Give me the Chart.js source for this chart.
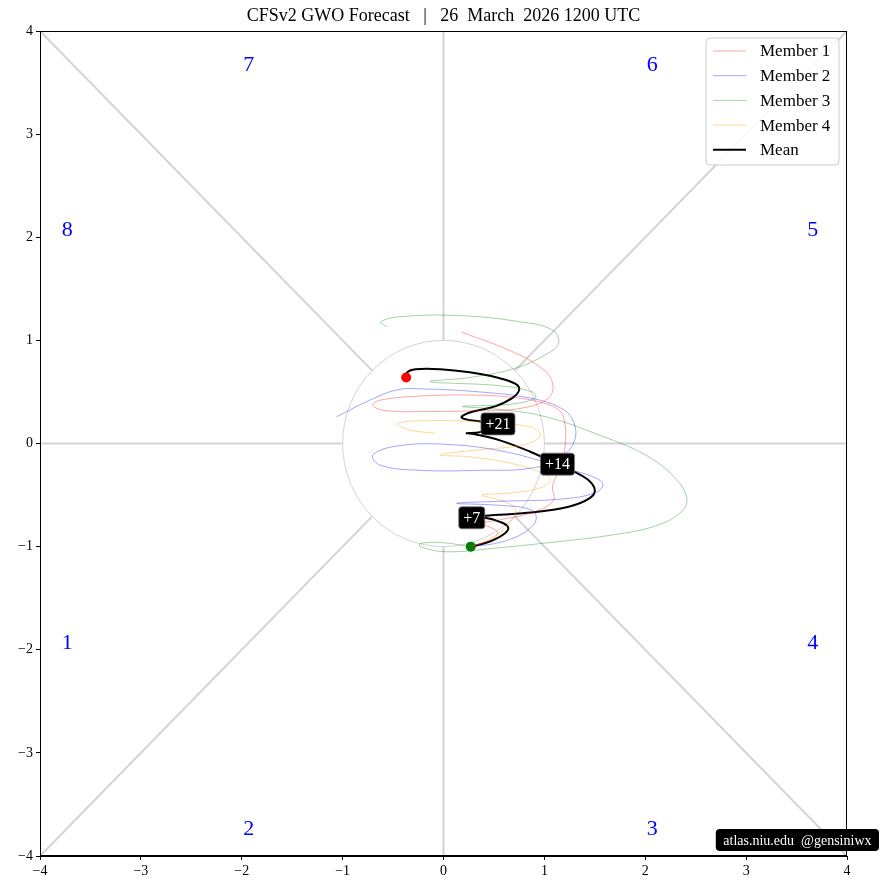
<!DOCTYPE html>
<html lang="en">
<head>
<meta charset="UTF-8">
<title>CFSv2 GWO Forecast</title>
<script src="https://cdn.jsdelivr.net/npm/chart.js"></script>
<style>
  body { margin: 0; background: #ffffff; }
  #wrap { width: 881px; height: 890px; }
</style>
</head>
<body>
<div id="wrap"><canvas id="gwo" width="881" height="890"></canvas></div>
<script>
// Ensemble members, in GWO phase space
const m1X = [0.27,0.46,0.54,0.46,0.36,0.56,0.91,1.09,1.08,1.12,1.18,1.21,1.20,1.15,0.96,0.66,0.26,-0.23,-0.63,-0.70,-0.58,-0.13,0.36,0.76,1.04,1.08,0.96,0.66,0.18];
const m1Y = [-1.00,-0.94,-0.87,-0.81,-0.78,-0.74,-0.66,-0.55,-0.42,-0.31,-0.16,0.03,0.21,0.32,0.40,0.45,0.47,0.46,0.42,0.37,0.32,0.31,0.32,0.34,0.44,0.59,0.74,0.90,1.08];

const m2X = [0.27,0.51,0.71,0.86,0.92,0.86,0.56,0.13,0.56,1.15,1.50,1.58,1.50,1.28,1.01,0.56,0.06,-0.43,-0.70,-0.63,-0.23,0.36,0.86,1.15,1.30,1.28,1.15,0.86,0.36,-0.23,-0.46,-0.73,-1.06];
const m2Y = [-1.00,-0.97,-0.91,-0.82,-0.72,-0.64,-0.60,-0.58,-0.56,-0.54,-0.48,-0.40,-0.33,-0.26,-0.18,-0.07,-0.01,-0.02,-0.11,-0.21,-0.26,-0.26,-0.24,-0.14,0.03,0.23,0.35,0.44,0.50,0.53,0.52,0.42,0.26];

const m3X = [0.27,-0.03,-0.23,-0.23,0.03,0.56,1.15,1.65,2.10,2.36,2.41,2.27,2.00,1.55,1.01,0.56,0.19,0.66,0.91,0.88,0.56,-0.13,0.26,0.71,1.01,1.14,1.08,0.76,0.16,-0.43,-0.62,-0.56];
const m3Y = [-1.00,-0.96,-0.97,-1.00,-1.05,-1.01,-0.95,-0.89,-0.80,-0.66,-0.52,-0.31,-0.11,0.08,0.26,0.33,0.36,0.38,0.44,0.50,0.56,0.60,0.64,0.73,0.86,0.97,1.10,1.18,1.24,1.23,1.18,1.13];

const m4X = [0.27,0.41,0.56,0.68,0.71,0.56,0.38,0.66,0.96,1.06,0.96,0.66,0.26,-0.03,0.36,0.81,0.96,0.86,0.36,-0.23,-0.46,-0.33,-0.08];
const m4Y = [-1.00,-0.95,-0.86,-0.74,-0.63,-0.55,-0.50,-0.48,-0.43,-0.35,-0.28,-0.19,-0.13,-0.11,-0.06,-0.01,0.08,0.16,0.21,0.22,0.19,0.13,0.10];

// Ensemble mean
const meanX = [0.27,0.46,0.61,0.64,0.56,0.41,0.28,0.41,0.86,1.25,1.45,1.50,1.43,1.27,1.13,0.86,0.56,0.31,0.23,0.36,0.54,0.38,0.18,0.26,0.51,0.68,0.75,0.71,0.53,0.26,-0.03,-0.28,-0.36,-0.37];
const meanY = [-1.00,-0.95,-0.87,-0.81,-0.76,-0.72,-0.72,-0.70,-0.67,-0.61,-0.53,-0.45,-0.35,-0.26,-0.20,-0.08,0.03,0.09,0.10,0.11,0.19,0.21,0.25,0.30,0.36,0.44,0.52,0.58,0.64,0.69,0.72,0.72,0.69,0.64];

const dayLabels = ['+7', '+14', '+21'];
const dayIndex = [6, 14, 20];

const phaseNames = ['1', '2', '3', '4', '5', '6', '7', '8'];
const phaseX = [-3.73, -1.93, 2.07, 3.66, 3.66, 2.07, -1.93, -3.73];
const phaseY = [-1.94, -3.74, -3.74, -1.94, 2.07, 3.67, 3.67, 2.07];

const titleText = 'CFSv2 GWO Forecast   |   26  March  2026 1200 UTC';
const creditText = 'atlas.niu.edu  @gensiniwx';

const serif = "'Liberation Serif', 'DejaVu Serif', serif";

function pts(xs, ys) {
    return xs.map((v, i) => ({ x: v, y: ys[i] }));
}

function minus(v) {
    return String(v).replace('-', '\u2212');
}

function roundBox(ctx, x, y, w, h, r) {
    ctx.beginPath();
    ctx.moveTo(x + r, y);
    ctx.arcTo(x + w, y, x + w, y + h, r);
    ctx.arcTo(x + w, y + h, x, y + h, r);
    ctx.arcTo(x, y + h, x, y, r);
    ctx.arcTo(x, y, x + w, y, r);
    ctx.closePath();
}

// phase-space guide lines, circle and phase numbers
const phaseBackground = {
    id: 'phaseBackground',
    beforeDatasetsDraw(chart) {
        const { ctx, chartArea: a, scales: { x, y } } = chart;
        ctx.save();
        ctx.beginPath();
        ctx.rect(a.left, a.top, a.width, a.height);
        ctx.clip();
        ctx.strokeStyle = '#d3d3d3';
        ctx.lineWidth = 2;
        const r = Math.SQRT1_2;
        const segs = [[-4, 0, -1, 0], [1, 0, 4, 0], [0, -4, 0, -1], [0, 1, 0, 4],
                      [-4, 4, -r, r], [r, r, 4, 4], [-4, -4, -r, -r], [r, -r, 4, -4]];
        segs.forEach(s => {
            ctx.beginPath();
            ctx.moveTo(x.getPixelForValue(s[0]), y.getPixelForValue(s[1]));
            ctx.lineTo(x.getPixelForValue(s[2]), y.getPixelForValue(s[3]));
            ctx.stroke();
        });
        ctx.lineWidth = 1;
        ctx.beginPath();
        const cx = x.getPixelForValue(0), cy = y.getPixelForValue(0);
        ctx.ellipse(cx, cy, x.getPixelForValue(1) - cx, cy - y.getPixelForValue(1), 0, 0, Math.PI * 2);
        ctx.stroke();

        ctx.fillStyle = '#0000ff';
        ctx.font = '22px ' + serif;
        ctx.textAlign = 'center';
        ctx.textBaseline = 'middle';
        phaseNames.forEach((p, i) => {
            ctx.fillText(p, x.getPixelForValue(phaseX[i]), y.getPixelForValue(phaseY[i]));
        });
        ctx.restore();
    },
    afterDatasetsDraw(chart) {
        const { ctx } = chart;
        const meanMeta = chart.getDatasetMeta(chart.data.datasets.length - 1);
        ctx.save();
        ctx.font = '16px ' + serif;
        ctx.textAlign = 'center';
        ctx.textBaseline = 'middle';
        dayLabels.forEach((lab, i) => {
            const p = meanMeta.data[dayIndex[i]];
            const w = ctx.measureText(lab).width + 9;
            roundBox(ctx, p.x - w / 2, p.y - 11, w, 22, 3);
            ctx.fillStyle = '#000000';
            ctx.fill();
            ctx.strokeStyle = '#777777';
            ctx.lineWidth = 0.8;
            ctx.stroke();
            ctx.fillStyle = '#ffffff';
            ctx.fillText(lab, p.x, p.y + 1);
        });
        ctx.restore();
    },
    afterDraw(chart) {
        const { ctx, chartArea: a } = chart;
        ctx.save();
        // frame
        ctx.strokeStyle = '#000000';
        ctx.lineWidth = 1;
        ctx.strokeRect(a.left + 0.5, a.top + 0.5, a.width - 1, a.height - 1);

        // title
        ctx.fillStyle = '#000000';
        ctx.font = '18px ' + serif;
        ctx.textAlign = 'center';
        ctx.textBaseline = 'middle';
        ctx.fillText(titleText, (a.left + a.right) / 2, 16);

        // legend
        const lx = a.right - 141, ly = a.top + 7, lw = 133, lh = 127;
        roundBox(ctx, lx, ly, lw, lh, 4);
        ctx.fillStyle = 'rgba(255,255,255,0.85)';
        ctx.fill();
        ctx.strokeStyle = '#cccccc';
        ctx.lineWidth = 1;
        ctx.stroke();
        ctx.textAlign = 'left';
        ctx.font = '17px ' + serif;
        chart.data.datasets.forEach((ds, i) => {
            const yy = ly + 13 + i * 24.7;
            ctx.strokeStyle = ds.borderColor;
            ctx.lineWidth = ds.borderWidth;
            ctx.beginPath();
            ctx.moveTo(lx + 7, yy);
            ctx.lineTo(lx + 40, yy);
            ctx.stroke();
            ctx.fillStyle = '#000000';
            ctx.fillText(ds.label, lx + 54, yy + 1);
        });

        // credit box
        ctx.font = '14px ' + serif;
        const cw = ctx.measureText(creditText).width + 15;
        const cxr = chart.width - 2;
        roundBox(ctx, cxr - cw, a.bottom - 27, cw, 22, 4);
        ctx.fillStyle = '#000000';
        ctx.fill();
        ctx.fillStyle = '#ffffff';
        ctx.textAlign = 'center';
        ctx.fillText(creditText, cxr - cw / 2, a.bottom - 15);
        ctx.restore();
    }
};

const ctx = document.getElementById('gwo').getContext('2d');
const memberStyle = (label, color, xs, ys) => ({
    label: label,
    data: pts(xs, ys),
    borderColor: color,
    borderWidth: 0.8,
    pointRadius: 0,
    showLine: true,
    tension: 0.4
});

const chart = new Chart(ctx, {
    type: 'scatter',
    data: {
        datasets: [
            memberStyle('Member 1', 'rgba(255,0,0,0.45)', m1X, m1Y),
            memberStyle('Member 2', 'rgba(0,0,255,0.45)', m2X, m2Y),
            memberStyle('Member 3', 'rgba(0,128,0,0.45)', m3X, m3Y),
            memberStyle('Member 4', 'rgba(255,165,0,0.55)', m4X, m4Y),
            {
                label: 'Mean',
                data: pts(meanX, meanY),
                borderColor: '#000000',
                borderWidth: 2,
                showLine: true,
                tension: 0.4,
                pointRadius: c => (c.dataIndex === 0 || c.dataIndex === meanX.length - 1) ? 5 : 0,
                pointBackgroundColor: c => c.dataIndex === 0 ? '#008000' : '#ff0000',
                pointBorderWidth: 0
            }
        ]
    },
    options: {
        responsive: false,
        animation: false,
        layout: { padding: { top: 31, right: 34, left: 0, bottom: 0 } },
        plugins: {
            legend: { display: false },
            tooltip: { enabled: false }
        },
        scales: {
            x: {
                type: 'linear',
                min: -4, max: 4,
                ticks: { stepSize: 1, color: '#000', padding: 3, font: { family: serif, size: 14 }, callback: v => minus(v) },
                grid: { drawOnChartArea: false, drawTicks: true, tickLength: 4, color: '#000' },
                border: { color: '#000' },
                afterFit: s => { s.height = 34; }
            },
            y: {
                type: 'linear',
                min: -4, max: 4,
                ticks: { stepSize: 1, color: '#000', padding: 3, font: { family: serif, size: 14 }, callback: v => minus(v) },
                grid: { drawOnChartArea: false, drawTicks: true, tickLength: 4, color: '#000' },
                border: { color: '#000' },
                afterFit: s => { s.width = 40; }
            }
        }
    },
    plugins: [phaseBackground]
});
</script>
</body>
</html>
